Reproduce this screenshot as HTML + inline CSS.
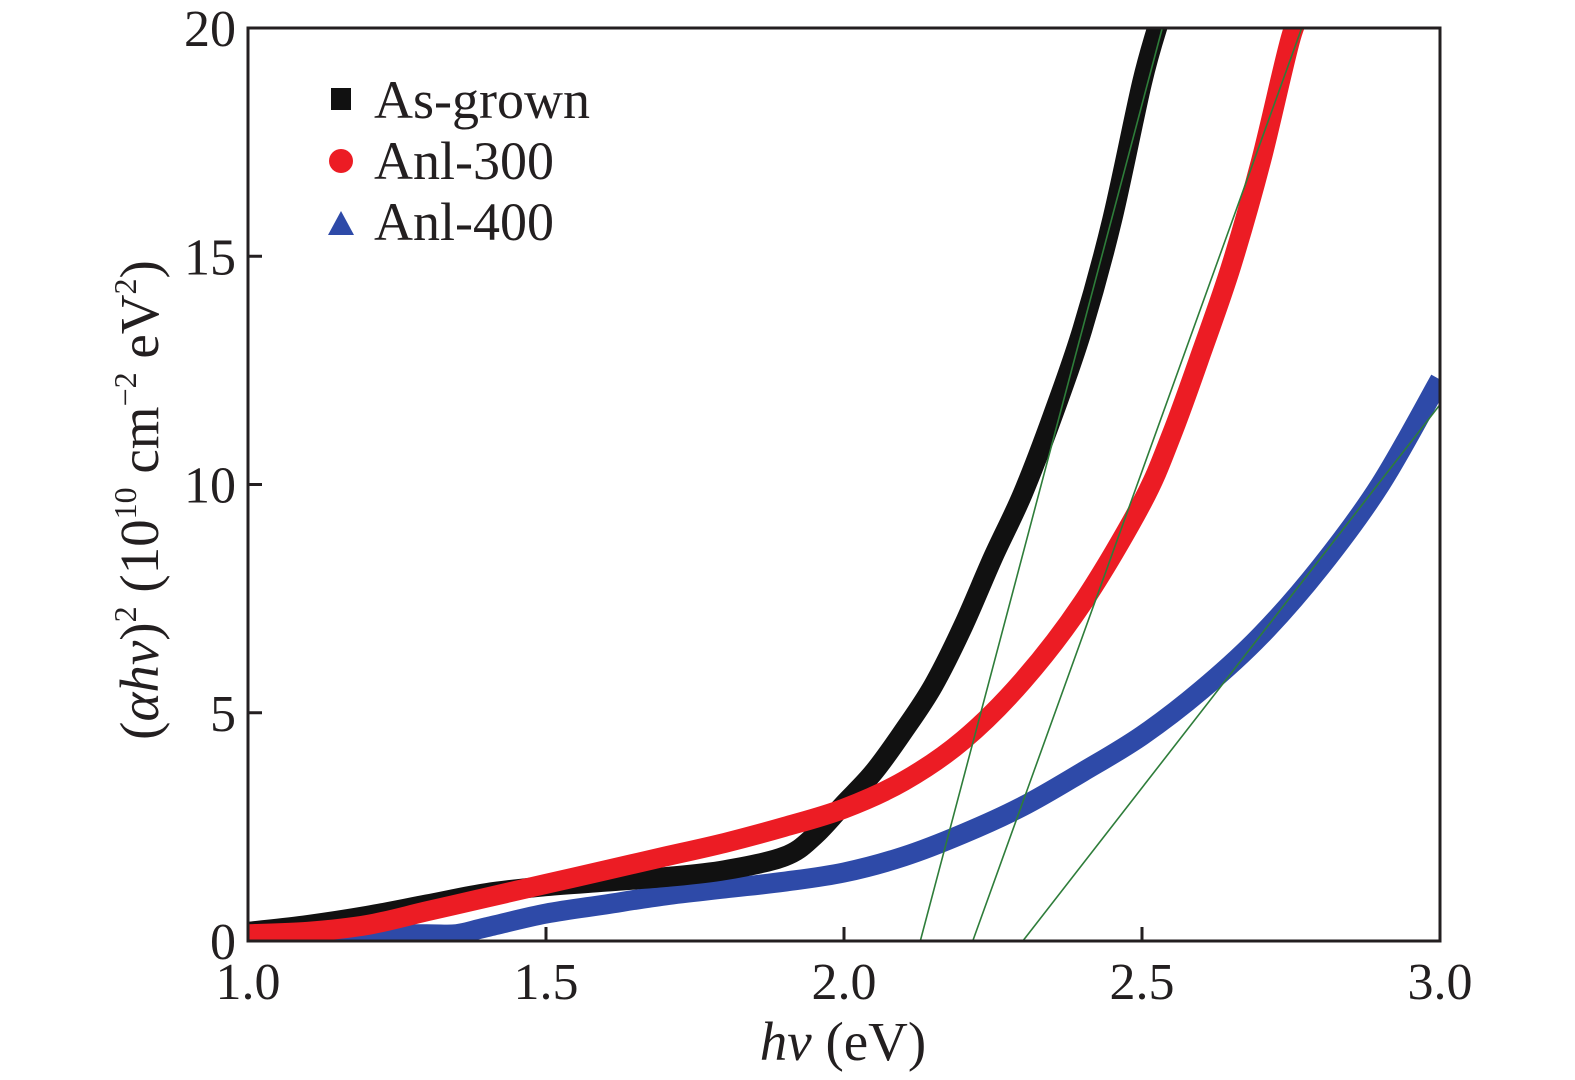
<!DOCTYPE html>
<html><head><meta charset="utf-8"><style>
body{margin:0;background:#fff}
svg{display:block}
svg text{font-family:"Liberation Serif",serif;fill:#231f20}
</style></head><body>
<svg width="1575" height="1080" xmlns="http://www.w3.org/2000/svg" style="position:absolute;left:0;top:0">
<text x="843" y="1060" text-anchor="middle" font-size="55"><tspan font-style="italic">hv</tspan> (eV)</text>
<text transform="translate(158,500) rotate(-90)" text-anchor="middle" font-size="55">(<tspan font-style="italic">αhv</tspan>)<tspan font-size="32" dy="-22">2</tspan><tspan dy="22"> (10</tspan><tspan font-size="32" dy="-22">10</tspan><tspan dy="22"> cm</tspan><tspan font-size="32" dy="-22">−2</tspan><tspan dy="22"> eV</tspan><tspan font-size="32" dy="-22">2</tspan><tspan dy="22">)</tspan></text>
</svg>
<script>
const xTicks=[1.0,1.5,2.0,2.5,3.0];
const xTickLabels=["1.0","1.5","2.0","2.5","3.0"];
const yTicks=[0,5,10,15,20];
const yTickLabels=["0","5","10","15","20"];
const seriesNames=["As-grown","Anl-300","Anl-400"];
const asGrownX=[1.0,1.1,1.2,1.3,1.4,1.5,1.6,1.7,1.8,1.9,1.95,2.0,2.05,2.1,2.15,2.2,2.25,2.3,2.35,2.4,2.45,2.5,2.53];
const asGrownY=[0.2,0.35,0.55,0.8,1.05,1.2,1.3,1.4,1.55,1.85,2.3,3.0,3.7,4.6,5.6,6.9,8.4,9.8,11.5,13.4,15.8,18.8,20.2];
const anl300X=[1.0,1.1,1.2,1.3,1.4,1.5,1.6,1.7,1.8,1.9,2.0,2.1,2.2,2.3,2.4,2.5,2.55,2.6,2.65,2.7,2.75,2.77];
const anl300Y=[0.15,0.2,0.35,0.65,0.95,1.25,1.55,1.85,2.15,2.5,2.9,3.5,4.4,5.7,7.4,9.6,11.1,12.9,14.8,17.1,19.8,20.3];
const anl400X=[1.0,1.1,1.2,1.3,1.35,1.4,1.5,1.6,1.7,1.8,1.9,2.0,2.1,2.2,2.3,2.4,2.5,2.6,2.7,2.8,2.9,3.0];
const anl400Y=[0.2,0.2,0.15,0.15,0.15,0.3,0.6,0.8,1.0,1.15,1.3,1.5,1.85,2.35,2.95,3.7,4.5,5.5,6.7,8.2,10.0,12.3];
const fitX1=[2.128,2.216,2.30];
const fitX2=[2.534,2.768,3.0];
const fitY2=[20,20,11.75];
const X0=248,X1=1440,Y0=941,Y1=28;
const sx=v=>X0+(v-1)/(3-1)*(X1-X0);
const sy=v=>Y0-(v/20)*(Y0-Y1);
const NS="http://www.w3.org/2000/svg";
const svg=document.querySelector('svg');
function mk(t,a,p){const e=document.createElementNS(NS,t);for(const k in a)e.setAttribute(k,a[k]);(p||svg).appendChild(e);return e;}
function smooth(pts){let d='M'+pts[0][0].toFixed(1)+' '+pts[0][1].toFixed(1);
 for(let i=0;i<pts.length-1;i++){const p0=pts[Math.max(i-1,0)],p1=pts[i],p2=pts[i+1],p3=pts[Math.min(i+2,pts.length-1)];
  const c1=[p1[0]+(p2[0]-p0[0])/6,p1[1]+(p2[1]-p0[1])/6],c2=[p2[0]-(p3[0]-p1[0])/6,p2[1]-(p3[1]-p1[1])/6];
  d+=' C'+c1.map(v=>v.toFixed(1)).join(' ')+' '+c2.map(v=>v.toFixed(1)).join(' ')+' '+p2[0].toFixed(1)+' '+p2[1].toFixed(1);}
 return d;}
const defs=mk('defs',{});const cp=mk('clipPath',{id:'c'},defs);mk('rect',{x:X0,y:Y1,width:X1-X0,height:Y0-Y1},cp);
const g=mk('g',{'clip-path':'url(#c)'});
const series=[[asGrownX,asGrownY,'#111111','series-as-grown'],[anl300X,anl300Y,'#ec1c24','series-anl-300'],[anl400X,anl400Y,'#2e4aa8','series-anl-400']];
for(const s of [series[2],series[0],series[1]]){
 const pts=s[0].map((x,i)=>[sx(x),sy(s[1][i])]);
 const p=mk('path',{d:smooth(pts),fill:'none',stroke:s[2],'stroke-width':20,'stroke-linejoin':'round'},g);
 
 
}
for(let i=0;i<fitX1.length;i++){
 const l=mk('line',{x1:sx(fitX1[i]),y1:sy(0),x2:sx(fitX2[i]),y2:sy(fitY2[i]),stroke:'#2e7d3a','stroke-width':1.6},g);
 
 
}
const fr=mk('rect',{x:X0,y:Y1,width:X1-X0,height:Y0-Y1,fill:'none',stroke:'#231f20','stroke-width':3});


xTicks.forEach((v,i)=>{
 const t=mk('line',{x1:sx(v),y1:Y0,x2:sx(v),y2:Y0-14,stroke:'#231f20','stroke-width':3});
 
 
 const tx=mk('text',{x:sx(v),y:Y0+58,'text-anchor':'middle','font-size':52});tx.textContent=xTickLabels[i];
 
 
});
yTicks.forEach((v,i)=>{
 const t=mk('line',{x1:X0,y1:sy(v),x2:X0+14,y2:sy(v),stroke:'#231f20','stroke-width':3});
 
 
 const tx=mk('text',{x:X0-12,y:sy(v)+18,'text-anchor':'end','font-size':52});tx.textContent=yTickLabels[i];
 
 
});
const lg=mk('g',{});
const ly=[100,161,222];
mk('rect',{x:331,y:ly[0]-12,width:20,height:22,fill:'#111'},lg);
mk('circle',{cx:341,cy:ly[1],r:12,fill:'#ec1c24'},lg);
mk('polygon',{points:'328,235 354,235 341,211',fill:'#2e4aa8'},lg);
seriesNames.forEach((n,i)=>{const t=mk('text',{x:374,y:ly[i]+18,'font-size':54},lg);t.textContent=n;
 
 });
</script>
</body></html>
